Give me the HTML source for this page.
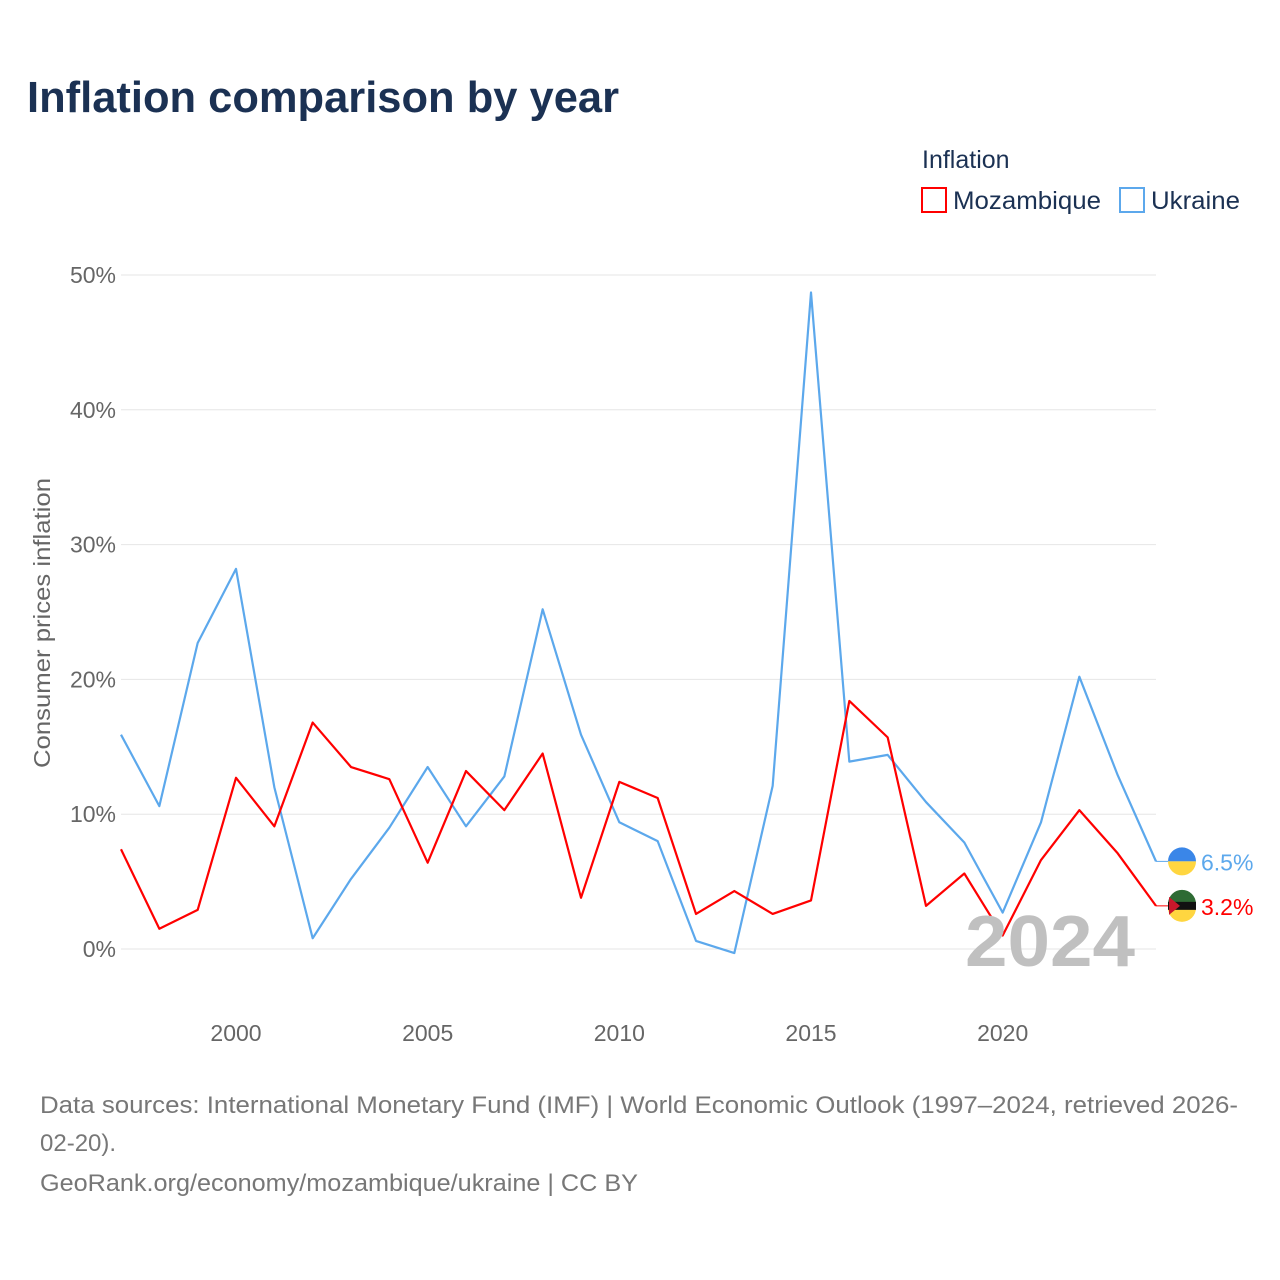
<!DOCTYPE html>
<html><head><meta charset="utf-8"><style>
body{margin:0;background:#fff;font-family:"Liberation Sans",sans-serif;}
#wrap{position:relative;width:1280px;height:1280px;overflow:hidden;}
</style></head><body>
<div id="wrap">
<svg id="chart" width="1280" height="1280">
<text x="27" y="112" font-size="44" font-weight="bold" fill="#1b3153" textLength="592" lengthAdjust="spacingAndGlyphs">Inflation comparison by year</text>
<text x="922" y="168" font-size="25" fill="#1b3153">Inflation</text>
<g><rect x="922" y="188" width="24" height="24" fill="none" stroke="#ff0000" stroke-width="2"/><text x="953" y="209" font-size="25" fill="#1b3153" textLength="148" lengthAdjust="spacingAndGlyphs">Mozambique</text></g>
<g><rect x="1120" y="188" width="24" height="24" fill="none" stroke="#5ca8ec" stroke-width="2"/><text x="1151" y="209" font-size="25" fill="#1b3153" textLength="89" lengthAdjust="spacingAndGlyphs">Ukraine</text></g>
<g id="grid"></g><g id="xt"></g><g id="series"></g>
<text transform="translate(50,623) rotate(-90)" text-anchor="middle" font-size="23" fill="#666" textLength="290" lengthAdjust="spacingAndGlyphs">Consumer prices inflation</text>
<text x="965" y="966" font-size="72" font-weight="bold" fill="#c0c0c0" textLength="170" lengthAdjust="spacingAndGlyphs">2024</text>
<text x="40" y="1113" font-size="24" fill="#777" textLength="1198" lengthAdjust="spacingAndGlyphs">Data sources: International Monetary Fund (IMF) | World Economic Outlook (1997–2024, retrieved 2026-</text>
<text x="40" y="1151" font-size="24" fill="#777">02-20).</text>
<text x="40" y="1191" font-size="24" fill="#777" textLength="598" lengthAdjust="spacingAndGlyphs">GeoRank.org/economy/mozambique/ukraine | CC BY</text>
</svg></div>
<script>
const years=[1997,1998,1999,2000,2001,2002,2003,2004,2005,2006,2007,2008,2009,2010,2011,2012,2013,2014,2015,2016,2017,2018,2019,2020,2021,2022,2023,2024];
const ukraine=[15.9,10.6,22.7,28.2,12.0,0.8,5.2,9.0,13.5,9.1,12.8,25.2,15.9,9.4,8.0,0.6,-0.3,12.1,48.7,13.9,14.4,10.9,7.9,2.7,9.4,20.2,12.9,6.5];
const mozambique=[7.4,1.5,2.9,12.7,9.1,16.8,13.5,12.6,6.4,13.2,10.3,14.5,3.8,12.4,11.2,2.6,4.3,2.6,3.6,18.4,15.7,3.2,5.6,1.0,6.6,10.3,7.1,3.2];
const yTicks=[0,10,20,30,40,50];
const xTicks=[2000,2005,2010,2015,2020];
const NS="http://www.w3.org/2000/svg";
const X=v=>121+(v-1997)*(1156-121)/27;
const Y=v=>949-v*13.48;
function mk(t,a,p){const e=document.createElementNS(NS,t);for(const k in a)e.setAttribute(k,a[k]);p.appendChild(e);return e;}
const grid=document.getElementById('grid'),xt=document.getElementById('xt'),ser=document.getElementById('series');
yTicks.forEach(v=>{
 const l=mk('line',{x1:121,x2:1156,y1:Y(v),y2:Y(v),stroke:'#e6e6e6','stroke-width':1},grid);
 
 
 const t=mk('text',{x:116,y:Y(v)+8,'text-anchor':'end','font-size':23,fill:'#666'},grid);
 t.textContent=v+'%';
 
 
});
xTicks.forEach(v=>{
 const t=mk('text',{x:X(v),y:1041,'text-anchor':'middle','font-size':23,fill:'#666'},xt);
 t.textContent=v;
 
 
});
function line(vals,color,name){
 const p=mk('polyline',{points:vals.map((v,i)=>X(years[i])+','+Y(v)).join(' '),fill:'none',stroke:color,'stroke-width':2.2,'stroke-linejoin':'round'},ser);
 
 
 const last=vals[vals.length-1],lx=X(years[years.length-1]),ly=Y(last);
 mk('line',{x1:lx,x2:lx+12,y1:ly,y2:ly,stroke:color,'stroke-width':1},ser);
 const t=mk('text',{x:lx+45,y:ly+9,'font-size':23,fill:color},ser);
 t.textContent=last.toFixed(1)+'%';
 
 
 return [lx+26,ly];
}
const u=line(ukraine,'#5ca8ec','ukraine');
const m=line(mozambique,'#ff0000','mozambique');
const fu=mk('g',{},ser);


mk('path',{d:`M${u[0]-14},${u[1]} a14,14 0 0 1 28,0z`,fill:'#3a86e8'},fu);
mk('path',{d:`M${u[0]-14},${u[1]} a14,14 0 0 0 28,0z`,fill:'#ffd640'},fu);
const fm=mk('g',{},ser);


mk('path',{d:`M${m[0]-14},${m[1]-2} a14,14 0 0 1 28,0z`,fill:'#2e6b34'},fm);
mk('path',{d:`M${m[0]-14},${m[1]+2} a14,14 0 0 0 28,0z`,fill:'#ffd640'},fm);
mk('rect',{x:m[0]-14,y:m[1]-4,width:28,height:8,fill:'#111'},fm);
mk('path',{d:`M${m[0]-13},${m[1]-9} L${m[0]-2},${m[1]} L${m[0]-13},${m[1]+9}z`,fill:'#c9182b'},fm);
</script>
</body></html>
